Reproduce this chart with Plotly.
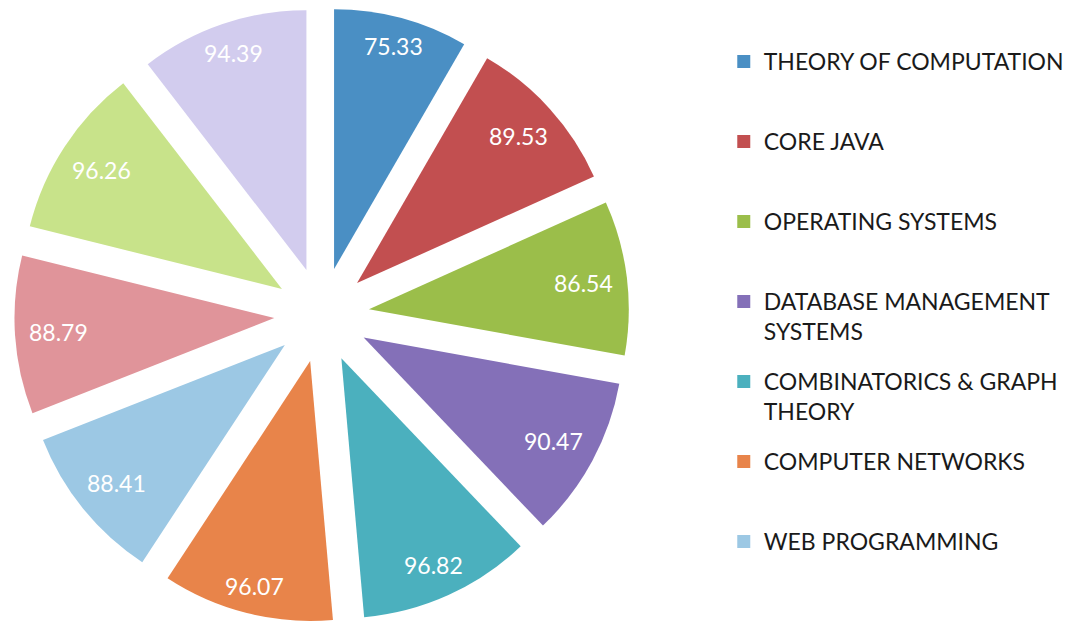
import math
import plotly.graph_objects as go

subjects = [
    "THEORY OF COMPUTATION",
    "CORE JAVA",
    "OPERATING SYSTEMS",
    "DATABASE MANAGEMENT SYSTEMS",
    "COMBINATORICS & GRAPH THEORY",
    "COMPUTER NETWORKS",
    "WEB PROGRAMMING",
    "SUBJECT 8",
    "SUBJECT 9",
    "SUBJECT 10",
]
scores = [75.33, 89.53, 86.54, 90.47, 96.82, 96.07, 88.41, 88.79, 96.26, 94.39]
colors = ["#4A8FC4", "#C24F50", "#9BBE4A", "#8470B8", "#4BB0BE",
          "#E8844A", "#9CC8E4", "#E0949A", "#C8E38A", "#D2CCEE"]
legend_names = [
    "THEORY OF COMPUTATION<br> ",
    "CORE JAVA<br> ",
    "OPERATING SYSTEMS<br> ",
    "DATABASE MANAGEMENT<br>SYSTEMS",
    "COMBINATORICS & GRAPH<br>THEORY",
    "COMPUTER NETWORKS<br> ",
    "WEB PROGRAMMING<br> ",
]

FONT = "Lato"
W, H = 1069, 625
PULL = 0.183
DOM_X = [0.01356, 0.59354]
DOM_Y = [0.0, 0.992]

fig = go.Figure()
fig.add_trace(go.Pie(
    labels=subjects,
    values=scores,
    sort=False,
    direction="clockwise",
    rotation=0,
    pull=[PULL] * len(scores),
    marker=dict(colors=colors, line=dict(width=0)),
    textinfo="none",
    showlegend=False,
    domain=dict(x=DOM_X, y=DOM_Y),
    hoverinfo="label+value",
))

# value labels placed near the outer edge of each slice ("inside end")
cx = W * (DOM_X[0] + DOM_X[1]) / 2
cy = H * (1 - (DOM_Y[0] + DOM_Y[1]) / 2)
size = min(W * (DOM_X[1] - DOM_X[0]), H * (DOM_Y[1] - DOM_Y[0]))
r = size / 2 / (1 + PULL)
LW, LH, PAD = 60, 22, 13
total = sum(scores)
cum = 0.0
for v in scores:
    phi = math.radians((cum + v / 2) / total * 360)
    cum += v
    ux, uy = math.sin(phi), -math.cos(phi)
    ax_, ay_ = cx + PULL * r * ux, cy + PULL * r * uy
    half = LW / 2 * abs(ux) + LH / 2 * abs(uy)
    d = r - PAD - half
    px, py = ax_ + d * ux, ay_ + d * uy
    fig.add_annotation(
        x=px / W, y=1 - py / H, xref="paper", yref="paper",
        text=f"{v:.2f}", showarrow=False,
        font=dict(family=FONT, size=23, color="white"),
        xanchor="center", yanchor="middle",
    )

for name, col in zip(legend_names, colors[:7]):
    fig.add_trace(go.Scatter(
        x=[None], y=[None], mode="markers", name=name,
        legendgroup=name,
        marker=dict(symbol="square", size=13, color=col),
        hoverinfo="skip",
    ))

fig.update_layout(
    width=W, height=H,
    margin=dict(l=0, r=0, t=0, b=0),
    paper_bgcolor="white", plot_bgcolor="white",
    xaxis=dict(visible=False), yaxis=dict(visible=False),
    legend=dict(
        x=0.6828, y=0.936, xanchor="left", yanchor="top",
        font=dict(family=FONT, size=23, color="#1a1a1a"),
        tracegroupgap=17.2, valign="top",
        bgcolor="rgba(0,0,0,0)",
    ),
    font=dict(family=FONT),
)

fig.write_html("out.html", post_script="document.body.style.margin='0';",
               config={"displayModeBar": False})
